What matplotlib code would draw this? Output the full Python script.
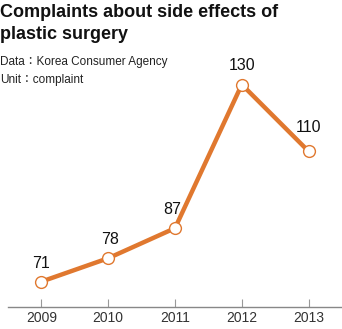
import matplotlib
matplotlib.use("Agg")
import matplotlib.pyplot as plt

years = [2009, 2010, 2011, 2012, 2013]
complaints = [71, 78, 87, 130, 110]
tick_labels = ["2009", "2010", "2011", "2012", "2013"]

orange = "#E0782F"
fams = ["Liberation Sans", "Noto Sans CJK KR"]

fig = plt.figure(figsize=(3.42, 3.29), dpi=100)
ax = fig.add_axes([8 / 342, 22 / 329, 1 - 8 / 342, 307 / 329])

ax.plot(years, complaints, color=orange, linewidth=3.2, zorder=2)
ax.plot(years, complaints, linestyle="none", marker="o", markersize=8.5,
        markerfacecolor="white", markeredgecolor=orange, markeredgewidth=1.0, zorder=3)

# label offsets (points) so the numbers clear the line
offsets = [(0, 8), (1, 8), (-2, 8), (0, 8), (0, 11.5)]
for (x, y), off in zip(zip(years, complaints), offsets):
    ax.annotate(str(y), (x, y), xytext=off, textcoords="offset points",
                ha="center", va="bottom", fontsize=11.5, color="#111111",
                family=fams)

ax.set_xlim(2008.5, 2013.5)
ax.set_ylim(63.4, 155.3)
ax.set_xticks(years)
ax.set_xticklabels(tick_labels, family=fams, fontsize=10, color="#333333")
ax.tick_params(axis="x", direction="in", length=6, color="#999999", pad=3)
ax.set_yticks([])
for side in ["top", "right", "left"]:
    ax.spines[side].set_visible(False)
ax.spines["bottom"].set_color("#888888")
ax.spines["bottom"].set_linewidth(1.0)
ax.patch.set_alpha(0)

fig.text(0.0, 1 - 17 / 329, "Complaints about side effects of", fontsize=13,
         fontweight="bold", family=fams, color="#111111", va="baseline")
fig.text(0.0, 1 - 39 / 329, "plastic surgery", fontsize=13,
         fontweight="bold", family=fams, color="#111111", va="baseline")
fig.text(0.0, 1 - 65 / 329, "Data\uff1aKorea Consumer Agency", fontsize=8.5,
         family=fams, color="#222222", va="baseline")
fig.text(0.0, 1 - 83 / 329, "Unit\uff1acomplaint", fontsize=8.5,
         family=fams, color="#222222", va="baseline")

fig.savefig("out.png", dpi=100)
